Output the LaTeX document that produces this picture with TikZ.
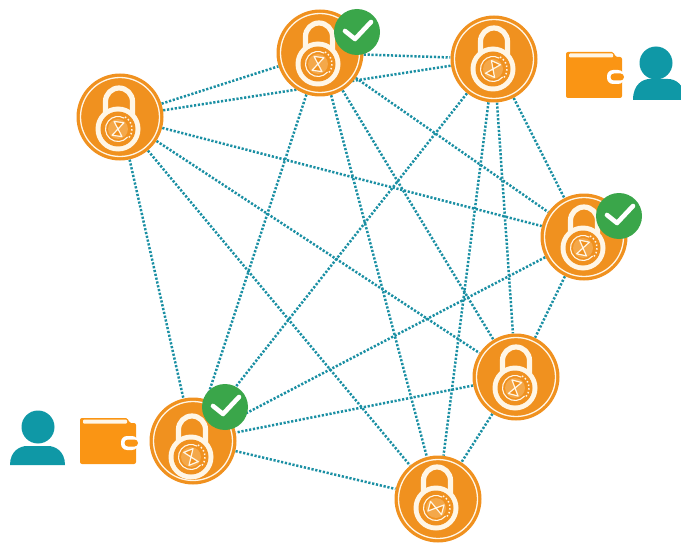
\documentclass[tikz,border=0pt]{standalone}
\usetikzlibrary{backgrounds}
\definecolor{lockorange}{HTML}{F0911F}
\definecolor{walletorange}{HTML}{FA9514}
\definecolor{linkteal}{HTML}{1A8FA3}
\definecolor{personteal}{HTML}{0F98A6}
\definecolor{checkgreen}{HTML}{3AA64A}
\definecolor{ringcream}{HTML}{FFF6E6}
\definecolor{dialpale}{HTML}{F4A84A}
\tikzset{
  x=1pt,y=-1pt,
  locknode/.style={circle,fill=lockorange,draw=none,minimum size=87pt,inner sep=0pt},
  badgenode/.style={circle,fill=checkgreen,draw=none,minimum size=46pt,inner sep=0pt},
  link/.style={draw=linkteal,line width=2.5pt,dash pattern=on 2.2pt off 1.7pt},
  headnode/.style={circle,fill=personteal,draw=none,minimum size=33pt,inner sep=0pt},
}
% #1,#2: centre of the lock; #3: tilt of the hourglass
\newcommand{\lockglyph}[3]{%
  \begin{scope}[shift={(#1,#2)}]
    \draw[ringcream,line width=5.2pt,line join=round]
      (-13.5,2) -- (-13.5,-16.5) arc[start angle=180,end angle=360,radius=13.5] -- (13.5,2);
    \fill[ringcream] (-1,11) circle[radius=22.5];
    \fill[lockorange] (-1,11) circle[radius=17.5];
    \fill[dialpale] (-1,11) circle[radius=10];
    \draw[ringcream,line width=1.1pt] (-1,11) ++(40:12.5) arc[start angle=40,end angle=300,radius=12.5];
    \draw[ringcream,line width=1.5pt,dash pattern=on 1.5pt off 2.2pt] (-1,11) ++(300:14) arc[start angle=300,end angle=400,radius=14];
    \begin{scope}[shift={(-1,11)},rotate=#3]
      \draw[ringcream,line width=1.2pt,line join=round,fill=lockorange]
        (-5,-7) -- (5,-7) -- (-5,7) -- (5,7) -- cycle;
    \end{scope}
  \end{scope}}
\newcommand{\checkglyph}[1]{%
  \draw[white,line width=4.6pt,line cap=round,line join=round]
    ([xshift=-12pt,yshift=1pt]#1.center) -- ([xshift=-2pt,yshift=-7pt]#1.center) -- ([xshift=14pt,yshift=10pt]#1.center);}
\newcommand{\walletglyph}[2]{%
  \begin{scope}[shift={(#1,#2)}]
    \fill[walletorange,rounded corners=2pt] (0,0) -- (48,0) -- (49,5) -- (56,5) -- (56,46) -- (0,46) -- cycle;
    \fill[ringcream,rounded corners=1pt] (3,1.5) rectangle (47,5.5);
    \fill[white,rounded corners=6pt] (41,18) rectangle (58,32);
    \fill[walletorange,rounded corners=3.5pt] (44.5,21.5) rectangle (58,28.5);
  \end{scope}}
\newcommand{\bodyglyph}[4]{%
  \fill[personteal] (#1,#3) .. controls (#1,#4+5) and (#1+10,#4) .. (#1+17,#4)
    -- (#2-17,#4) .. controls (#2-10,#4) and (#2,#4+5) .. (#2,#3) -- cycle;}
\begin{document}
\begin{tikzpicture}
  \useasboundingbox (0,0) rectangle (681,543);
  \begin{scope}
    \clip (0,0) rectangle (681,543);
    \node[locknode] (a) at (320,53) {};
    \node[locknode] (b) at (494,59) {};
    \node[locknode] (c) at (120,117) {};
    \node[locknode] (d) at (584,237) {};
    \node[locknode] (e) at (516,377) {};
    \node[locknode] (f) at (193,441) {};
    \node[locknode] (g) at (438,499) {};
    \foreach \n in {a,b,c,d,e,f,g}
      \draw[ringcream,line width=1.3pt] (\n.center) circle[radius=39.5];
    \lockglyph{319}{53}{-8}
    \lockglyph{494}{58}{-25}
    \lockglyph{119}{118}{-8}
    \lockglyph{584}{237}{-12}
    \lockglyph{516}{377}{-15}
    \lockglyph{192}{446}{22}
    \lockglyph{437}{497}{75}
    \begin{scope}[on background layer]
      \foreach \s/\t in {c/a,a/b,c/b,c/d,c/e,c/f,c/g,a/d,a/e,a/g,a/f,b/d,b/e,b/g,b/f,d/e,d/f,e/f,e/g,f/g}
        \draw[link] (\s) -- (\t);
    \end{scope}
    \node[badgenode] (ba) at (357,32) {};
    \checkglyph{ba}
    \node[badgenode] (bd) at (619,216) {};
    \checkglyph{bd}
    \node[badgenode] (bf) at (225,407) {};
    \checkglyph{bf}
    \walletglyph{566}{52}
    \walletglyph{80}{418}
    \node[headnode] (hr) at (656,63) {};
    \bodyglyph{633}{685}{100}{79}
    \node[headnode] (hl) at (38,427) {};
    \bodyglyph{10}{65}{465}{446}
  \end{scope}
\end{tikzpicture}
\end{document}
